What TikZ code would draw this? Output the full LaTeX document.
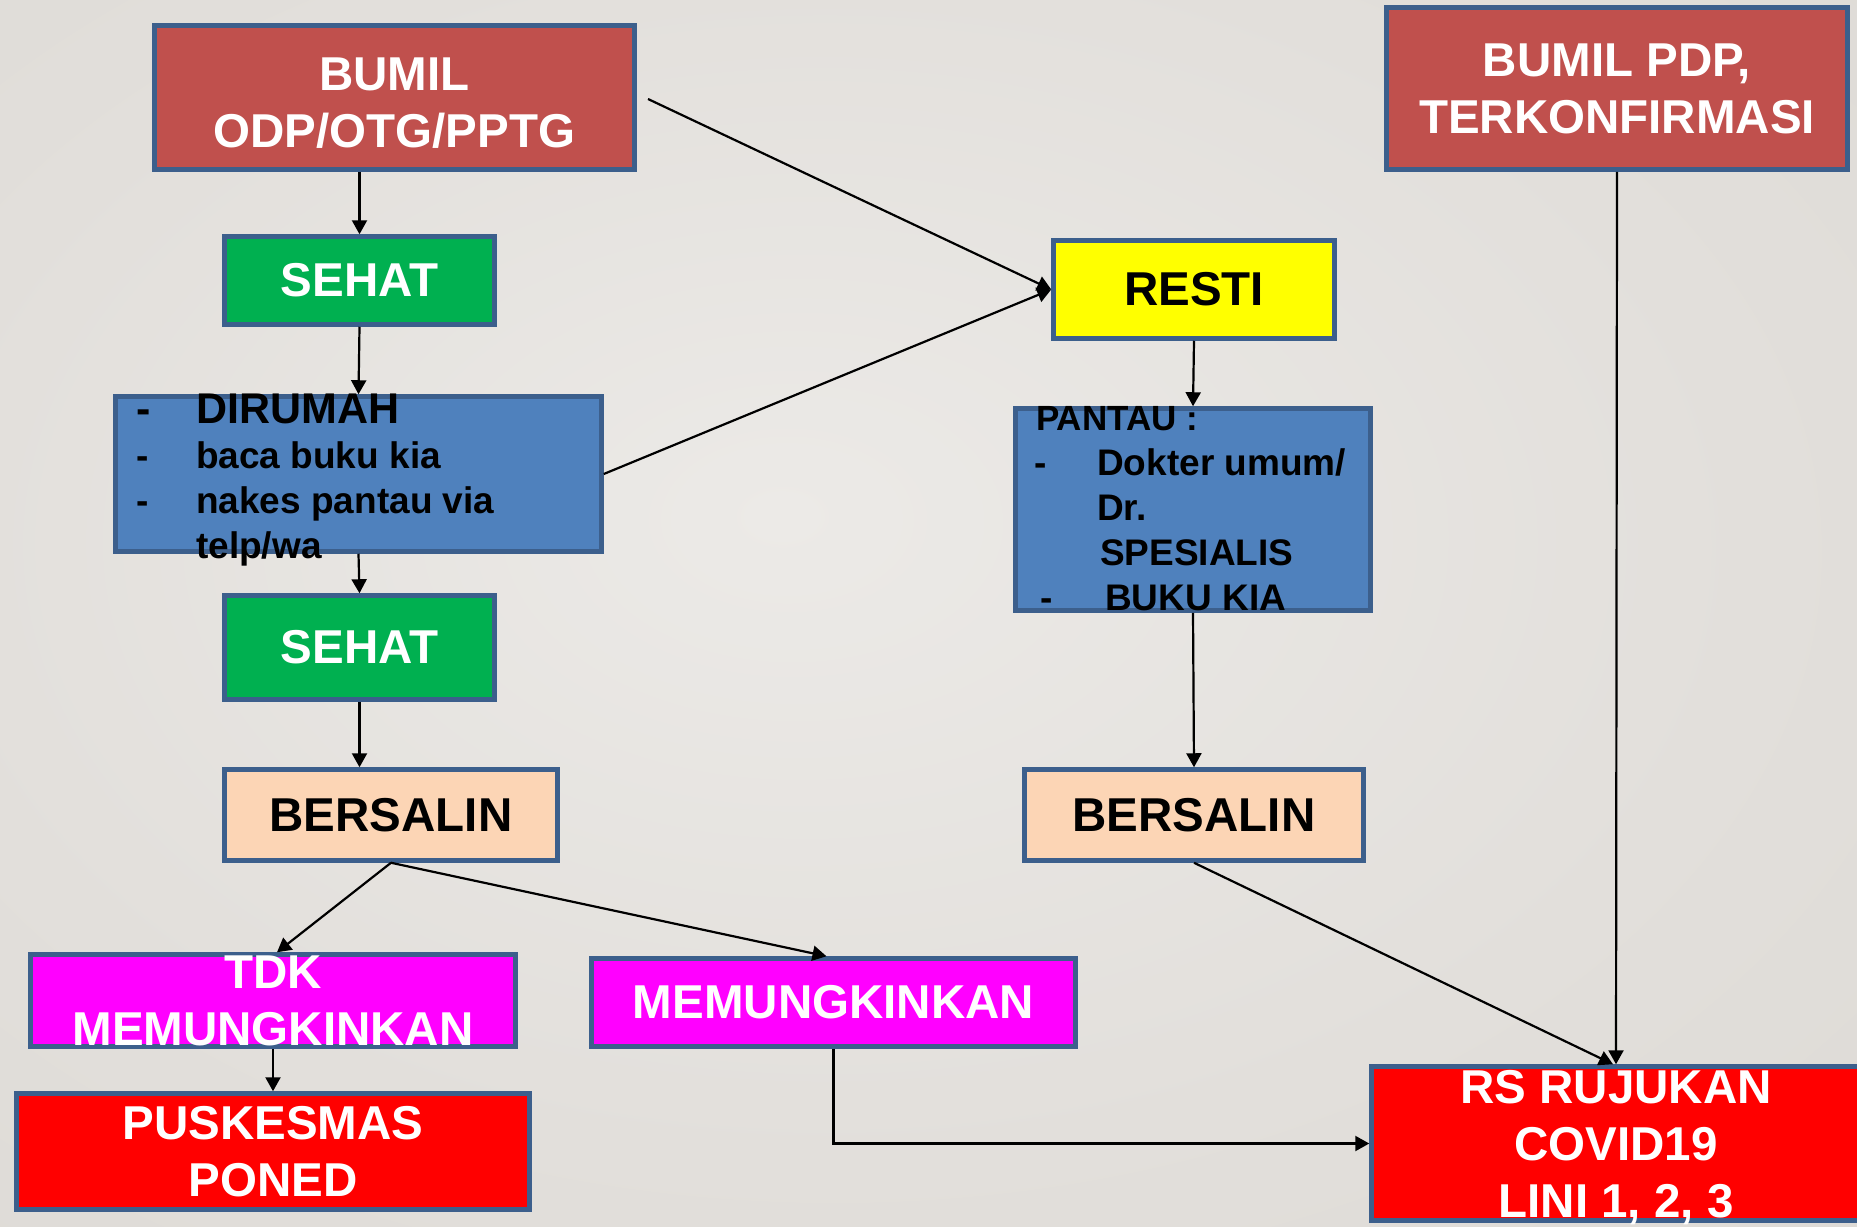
\documentclass[tikz,border=0pt]{standalone}
\usepackage{fontspec}
\setmainfont{Liberation Sans}
\usetikzlibrary{arrows.meta,calc}
\definecolor{bgin}{HTML}{ECEAE7}
\definecolor{bgmid}{HTML}{E2DFDB}
\definecolor{bgout}{HTML}{D3D0CB}
\definecolor{bordc}{HTML}{3C5F8C}
\definecolor{cbumil}{HTML}{C0504D}
\definecolor{csehat}{HTML}{00B050}
\definecolor{cresti}{HTML}{FFFF00}
\definecolor{cblue}{HTML}{4F81BD}
\definecolor{cpeach}{HTML}{FCD5B5}
\definecolor{cmag}{HTML}{FF00FF}
\definecolor{cred}{HTML}{FF0000}
\pgfdeclareradialshading{bgshade}{\pgfpoint{-4bp}{4bp}}{color(0bp)=(bgin); color(25bp)=(bgmid); color(72bp)=(bgout)}
\tikzset{
  box/.style={draw=bordc, line width=4.5pt, inner sep=0pt, align=center,
    font=\bfseries\fontsize{47.5}{57}\selectfont, text=white},
  boxtext/.style={inner sep=0pt, align=center,
    font=\bfseries\fontsize{47.5}{57}\selectfont, text=white},
  blacktext/.style={text=black},
  arr/.style={draw=black, line width=2.2pt, -{Triangle[width=15pt,length=14pt]}},
  btxt/.style={anchor=base west, inner sep=0pt, font=\bfseries\fontsize{37}{45}\selectfont, text=black},
  bigbtxt/.style={anchor=base west, inner sep=0pt, font=\bfseries\fontsize{43}{45}\selectfont, text=black}
}
\begin{document}
\begin{tikzpicture}[x=1pt,y=-1pt]
\clip (0,0) rectangle (1857,1226);
\shade[shading=bgshade] (0,0) rectangle (1857,1226);

% boxes
\node[box, fill=cbumil, minimum width=480, minimum height=144] (bumil) at (394.5,97.5) {\rule{0pt}{44pt}BUMIL\\ODP/OTG/PPTG};
\node[box, fill=cbumil, minimum width=461, minimum height=162] (pdp) at (1617,88.5) {BUMIL PDP,\\TERKONFIRMASI};
\node[box, fill=csehat, minimum width=270, minimum height=88] (sehatA) at (359.5,280.5) {SEHAT};
\node[box, fill=cresti, blacktext, minimum width=281, minimum height=98] (resti) at (1194,289.5) {RESTI};
\node[box, fill=cblue, minimum width=486, minimum height=155] (dirumah) at (358.5,474) {};
\node[box, fill=cblue, minimum width=355, minimum height=202] (pantau) at (1193,509.5) {};
\node[box, fill=csehat, minimum width=270, minimum height=104] (sehatB) at (359.5,647.5) {SEHAT};
\node[box, fill=cpeach, blacktext, minimum width=333, minimum height=91] (bersalinA) at (391,815) {BERSALIN};
\node[box, fill=cpeach, blacktext, minimum width=339, minimum height=91] (bersalinB) at (1194,815) {BERSALIN};
\node[box, fill=cmag, minimum width=485, minimum height=92] (tdk) at (273,1000.5) {TDK\\MEMUNGKINKAN};
\node[box, fill=cmag, minimum width=484, minimum height=88] (memung) at (833.5,1002.5) {MEMUNGKINKAN};
\node[box, fill=cred, minimum width=513, minimum height=116] (pusk) at (273,1151.5) {PUSKESMAS\\PONED};
\node[box, fill=cred, minimum width=489, minimum height=154] (rs) at (1616,1143.5) {};
\node[boxtext] (rstext) at (1616,1148) {RS RUJUKAN\\COVID19\\LINI 1, 2, 3};

% DIRUMAH text
\node[bigbtxt] (d1) at (136,423) {-};
\node[bigbtxt] (d1t) at (196,423) {DIRUMAH};
\node[btxt] (d2) at (136,468) {-};
\node[btxt] (d2t) at (196,468) {baca buku kia};
\node[btxt] (d3) at (136,513) {-};
\node[btxt] (d3t) at (196,513) {nakes pantau via};
\node[btxt] (d4t) at (196,558) {telp/wa};

% PANTAU text
\node[btxt, font=\bfseries\fontsize{35}{45}\selectfont] (p0) at (1036,430) {PANTAU :};
\node[btxt] (p1) at (1034,475) {-};
\node[btxt] (p1t) at (1097,475) {Dokter umum/};
\node[btxt] (p2t) at (1097,520) {Dr.};
\node[btxt] (p3t) at (1100,565) {SPESIALIS};
\node[btxt] (p4) at (1040,610) {-};
\node[btxt] (p4t) at (1105,610) {BUKU KIA};

% connectors
\coordinate (s1) at (648,99);
\draw[arr] (sehatA.north |- bumil.south) -- (sehatA.north);
\draw[arr] (sehatA.south) -- (dirumah.north);
\draw[arr] (dirumah.south) -- (sehatB.north);
\draw[arr] (sehatB.south) -- (sehatB.south |- bersalinA.north);
\draw[arr] (s1) -- (resti.west);
\draw[arr] (dirumah.east) -- (resti.west);
\draw[arr] (resti.south) -- (pantau.north);
\draw[arr] (pantau.south) -- (bersalinB.north);
\draw[arr] (bersalinA.south) -- ($(tdk.north)+(4,0)$);
\draw[arr] (bersalinA.south) -- ($(memung.north)+(-7,0)$);
\draw[arr] (tdk.south) -- (pusk.north);
\draw[arr] (memung.south) |- (rs.west);
\draw[arr] (bersalinB.south) -- ($(rs.north)+(-3,0)$);
\draw[arr] (pdp.south) -- (rs.north);
\end{tikzpicture}
\end{document}
